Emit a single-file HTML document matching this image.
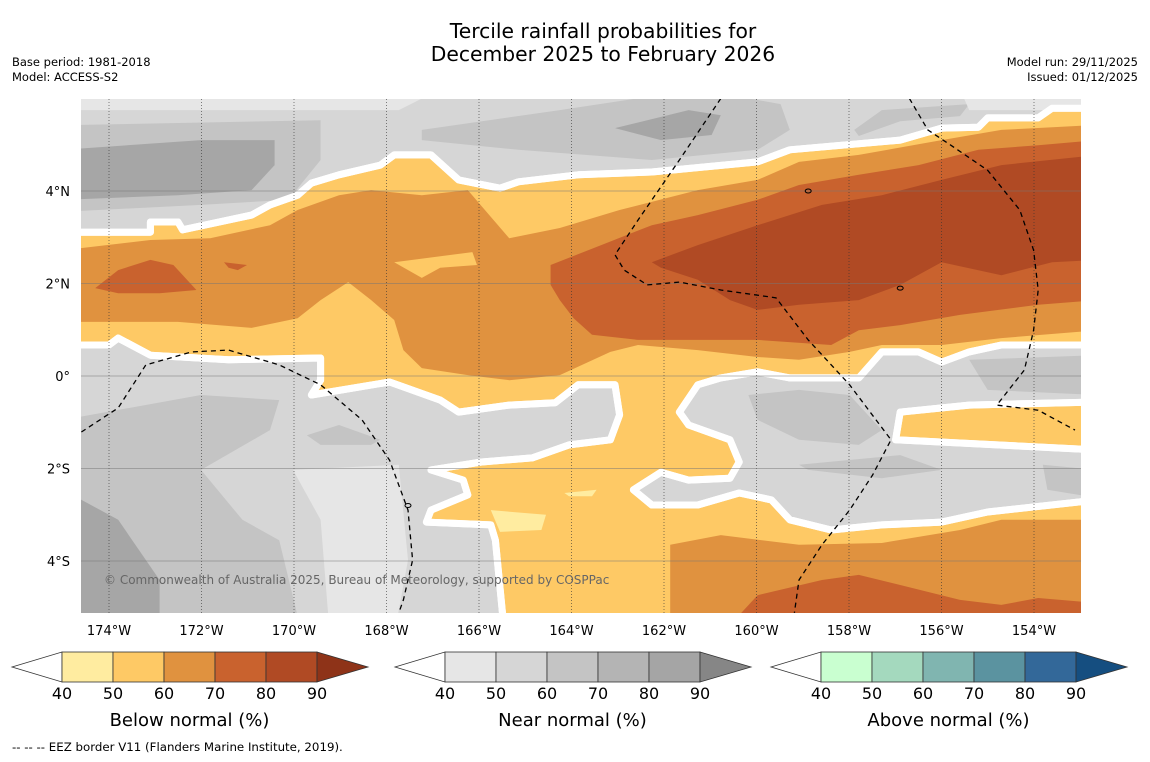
<!DOCTYPE html>
<html><head><meta charset="utf-8"><style>
body{margin:0;background:#fff;width:1150px;height:758px;overflow:hidden;font-family:"DejaVu Sans","Liberation Sans",sans-serif;}
svg text{font-family:"DejaVu Sans","Liberation Sans",sans-serif;}
</style></head><body>
<svg id="chart" width="1150" height="758" xmlns="http://www.w3.org/2000/svg">
<rect width="1150" height="758" fill="#fff"/>
<text x="603" y="38" font-size="20.3" text-anchor="middle">Tercile rainfall probabilities for</text>
<text x="603" y="61" font-size="20.3" text-anchor="middle">December 2025 to February 2026</text>
<text x="12" y="66" font-size="11.5">Base period: 1981-2018</text>
<text x="12" y="81" font-size="11.5">Model: ACCESS-S2</text>
<text x="1138" y="66" font-size="11.5" text-anchor="end">Model run: 29/11/2025</text>
<text x="1138" y="81" font-size="11.5" text-anchor="end">Issued: 01/12/2025</text>
<defs><clipPath id="mapclip"><rect x="81" y="99" width="1000" height="514"/></clipPath></defs>
<g id="map" clip-path="url(#mapclip)"></g>
<g id="axes"></g>
<g id="bars"></g>
<text x="12" y="751" font-size="11.8">--  --  -- EEZ border V11 (Flanders Marine Institute, 2019).</text>
</svg>
<script>
const lonTicks=[174,172,170,168,166,164,162,160,158,156,154];
const latTicks=[4,2,0,-2,-4];
const cbLevels=[40,50,60,70,80,90];
const belowColors=["#ffeca0","#fec965","#e0923f","#c9622e","#b04a24","#8e3318"];
const nearColors=["#e6e6e6","#d6d6d6","#c4c4c4","#b4b4b4","#a5a5a5","#868686"];
const aboveColors=["#c9ffd0","#a4d9be","#80b5b0","#5b93a0","#336899","#154e80"];
const cbTitles=["Below normal (%)","Near normal (%)","Above normal (%)"];
// contour polygons: [lonW, lat]
const grayTop=[[175,6.3],[175,3.11],[173.1,3.11],[173.1,3.33],[172.5,3.33],[172.4,3.16],[170.9,3.48],[170.5,3.7],[169.9,3.91],[169.6,4.17],[169.0,4.35],[168.1,4.56],[167.8,4.78],[167.0,4.78],[166.4,4.24],[165.5,4.06],[165.1,4.2],[163.8,4.35],[162.2,4.41],[159.9,4.63],[159.2,4.89],[156.8,5.1],[155.9,5.36],[155.1,5.38],[154.9,5.58],[153.8,5.58],[153.5,5.79],[152.5,5.79],[152.5,6.3]];
const grayRight=[[161.6,-0.78],[161.2,-0.19],[160.7,-0.04],[159.9,0.09],[159.2,-0.04],[157.7,-0.04],[157.2,0.52],[156.4,0.52],[155.9,0.3],[155.3,0.52],[154.6,0.67],[152.5,0.67],[152.5,-0.56],[155.3,-0.63],[156.8,-0.78],[156.9,-1.38],[152.5,-1.6],[152.5,-2.68],[154.9,-2.94],[155.9,-3.16],[157.2,-3.22],[158.3,-3.33],[159.2,-3.11],[159.6,-2.68],[160.3,-2.53],[161.2,-2.79],[162.2,-2.79],[162.6,-2.46],[162.0,-2.08],[161.4,-2.25],[160.5,-2.21],[160.3,-1.86],[160.5,-1.38],[161.4,-1.06]];
const grayLeft=[[175,0.67],[174.0,0.67],[173.8,0.82],[173.1,0.45],[171.4,0.35],[169.4,0.39],[169.4,-0.09],[169.6,-0.41],[167.9,-0.13],[166.8,-0.52],[166.4,-0.78],[165.3,-0.63],[164.3,-0.58],[163.8,-0.19],[163.0,-0.19],[162.9,-0.84],[163.1,-1.38],[164.0,-1.49],[164.8,-1.77],[165.9,-1.86],[167.0,-2.03],[166.3,-2.25],[166.2,-2.57],[167.0,-2.9],[167.1,-3.16],[165.7,-3.22],[165.6,-3.55],[165.4,-5.6],[175,-5.6]];
const shadeTop=[
 ["#c4c4c4",[[174.6,5.43],[169.4,5.53],[169.4,4.67],[170.1,3.81],[172.0,3.7],[175,3.55],[175,5.43]]],
 ["#a6a6a6",[[175,4.89],[172.0,5.1],[170.4,5.1],[170.4,4.56],[170.9,4.02],[172.5,3.91],[175,3.81]]],
 ["#c4c4c4",[[167.2,5.32],[164.2,5.75],[161.2,6.2],[159.4,5.88],[159.2,5.32],[159.9,4.89],[162.2,4.67],[165.1,4.89],[167.2,5.1]]],
 ["#a6a6a6",[[163.0,5.36],[161.4,5.75],[160.7,5.64],[160.9,5.21],[162.0,5.1]]],
 ["#c4c4c4",[[157.8,5.32],[157.2,5.75],[155.3,5.88],[155.5,5.62],[156.8,5.51],[157.7,5.19]]],
 ["#e6e6e6",[[175,6.2],[166.8,6.2],[167.7,5.75],[175,5.75]]],
 ["#e6e6e6",[[155.5,6.2],[152.5,6.2],[152.5,5.75],[155.3,5.75]]]];
const shadeLeft=[
 ["#c4c4c4",[[175,-0.95],[172.0,-0.41],[170.3,-0.52],[170.5,-1.17],[172.0,-2.03],[171.1,-3.11],[170.3,-3.55],[169.8,-5.6],[175,-5.6]]],
 ["#e6e6e6",[[170.0,-2.03],[167.7,-1.92],[167.5,-3.98],[167.8,-5.6],[169.2,-5.6],[169.4,-3.11]]],
 ["#a6a6a6",[[175,-2.46],[173.8,-3.11],[172.9,-4.41],[172.9,-5.6],[175,-5.6]]],
 ["#c4c4c4",[[169.7,-1.28],[169.0,-1.06],[168.1,-1.38],[168.3,-1.49],[169.4,-1.49]]]];
const shadeRight=[
 ["#c4c4c4",[[160.1,-0.41],[159.0,-0.3],[157.9,-0.41],[157.2,-1.17],[157.7,-1.49],[159.0,-1.38],[159.9,-0.95]]],
 ["#c4c4c4",[[159.0,-1.92],[156.8,-1.71],[155.9,-2.03],[157.2,-2.21],[158.8,-2.03]]],
 ["#c4c4c4",[[155.3,0.35],[152.5,0.45],[152.5,-0.41],[154.9,-0.3]]],
 ["#c4c4c4",[[153.7,-1.92],[152.5,-2.03],[152.5,-2.64],[153.6,-2.46]]]];
const orangeMain=[[175,2.72],[173.1,2.94],[171.8,2.98],[170.5,3.26],[169.9,3.59],[169.0,3.91],[168.3,4.02],[167.2,3.91],[166.2,4.02],[165.3,2.98],[164.2,3.2],[162.9,3.59],[161.2,4.02],[159.9,4.24],[159.0,4.63],[157.7,4.78],[155.9,5.1],[154.6,5.32],[152.5,5.43],[152.5,0.99],[154.6,0.82],[155.9,0.67],[157.2,0.67],[157.9,0.52],[159.0,0.35],[159.9,0.41],[161.2,0.56],[162.5,0.67],[163.1,0.52],[164.2,0.02],[165.3,-0.09],[166.2,0.02],[167.2,0.17],[167.6,0.56],[167.8,1.21],[168.3,1.64],[168.8,2.03],[169.4,1.64],[169.9,1.25],[170.9,1.04],[172.5,1.17],[175,1.17]];
const yellowPatch=[[167.8,2.46],[166.1,2.68],[166.0,2.4],[166.8,2.34],[167.2,2.12]];
const orangeBottom=[[161.8,-5.6],[161.8,-3.65],[160.7,-3.44],[159.0,-3.65],[157.2,-3.61],[155.5,-3.33],[154.6,-3.11],[152.5,-3.11],[152.5,-5.6]];
const darkMain=[[164.4,2.4],[163.3,2.83],[162.2,3.26],[161.2,3.48],[159.9,3.81],[159.0,4.13],[157.7,4.35],[156.4,4.56],[155.1,4.89],[153.8,4.99],[152.5,5.1],[152.5,1.64],[153.8,1.54],[155.5,1.32],[156.8,1.1],[157.7,0.99],[158.3,0.67],[159.9,0.78],[161.2,0.78],[162.5,0.78],[163.5,0.89],[163.9,1.25],[164.2,1.64],[164.4,1.97]];
const darkLeft=[[174.3,1.9],[173.8,2.29],[173.1,2.51],[172.6,2.4],[172.1,1.86],[172.9,1.79],[173.8,1.79]];
const darkSmall=[[171.5,2.46],[171.0,2.4],[171.2,2.29],[171.4,2.34]];
const darkBottom=[[160.7,-5.6],[159.9,-4.74],[158.5,-4.41],[157.7,-4.3],[156.8,-4.52],[155.5,-4.84],[154.6,-4.95],[153.8,-4.8],[152.5,-4.91],[152.5,-5.6]];
const brown=[[162.2,2.46],[161.2,2.83],[159.9,3.26],[158.5,3.7],[157.2,3.91],[155.9,4.24],[154.6,4.56],[152.5,4.78],[152.5,2.51],[153.5,2.46],[154.6,2.18],[155.9,2.46],[156.8,1.97],[157.7,1.64],[159.0,1.54],[159.9,1.43],[160.5,1.64],[161.2,2.08],[162.0,2.34]];
const lightYellow=[[165.7,-2.9],[164.5,-3.0],[164.6,-3.33],[165.5,-3.37]];
const lightYellow2=[[164.1,-2.53],[163.4,-2.46],[163.5,-2.6],[164.0,-2.6]];
const eez1=[[174.6,-1.21],[173.8,-0.69],[173.2,0.24],[172.2,0.52],[171.4,0.56],[170.3,0.24],[169.4,-0.19],[168.5,-0.95],[167.9,-1.82],[167.5,-2.9],[167.4,-3.98],[167.6,-4.84],[167.7,-5.12]];
const eez2=[[160.7,6.0],[161.6,4.67],[162.5,3.37],[163.0,2.62],[162.8,2.29],[162.3,1.97],[161.6,2.03],[160.7,1.86],[159.5,1.69],[158.8,0.78],[157.9,-0.19],[157.0,-1.38],[157.4,-2.14],[157.9,-2.9],[158.5,-3.65],[159.0,-4.41],[159.1,-5.12]];
const eez3=[[156.6,6.0],[156.2,5.32],[155.7,4.99],[154.9,4.45],[154.2,3.59],[153.9,2.72],[153.8,1.86],[153.9,0.99],[154.1,0.13],[154.7,-0.63],[153.8,-0.74],[153.0,-1.17]];

const NS="http://www.w3.org/2000/svg";
const x=lw=>109+(174-lw)*46.25;
const xp=lw=>109+(174-lw)*46;
const y=lat=>376-lat*46.25;
const pts=a=>a.map(p=>xp(p[0]).toFixed(1)+","+y(p[1]).toFixed(1)).join(" ");
function mk(tag,parent,attrs){const e=document.createElementNS(NS,tag);for(const k in attrs)e.setAttribute(k,attrs[k]);parent.appendChild(e);return e;}
const map=document.getElementById("map");
const defs=document.querySelector("defs");
let bg=mk("rect",map,{x:81,y:99,width:1000,height:514,fill:"#fec965"});


function poly(a,fill,name,stroke){const p=mk("polygon",map,{points:pts(a),fill:fill});
 if(stroke){p.setAttribute("stroke","#fff");p.setAttribute("stroke-width","7");p.setAttribute("stroke-linejoin","round");}
 
 
 return p;}
poly(orangeMain,"#e0923f","below-60-band");
poly(yellowPatch,"#fec965","below-50-patch");
poly(orangeBottom,"#e0923f","below-60-south");
poly(darkMain,"#c9622e","below-70-band");
poly(darkLeft,"#c9622e","below-70-west");
poly(darkSmall,"#c9622e","below-70-small");
poly(darkBottom,"#c9622e","below-70-south");
poly(brown,"#b04a24","below-80-core");
poly(lightYellow,"#ffeca0","below-40-patch");
poly(lightYellow2,"#ffeca0","below-40-patch-small");
[[grayTop,shadeTop,"near-normal-north"],[grayLeft,shadeLeft,"near-normal-southwest"],[grayRight,shadeRight,"near-normal-southeast"]].forEach((g,i)=>{
 poly(g[0],"#d6d6d6",g[2],true);
 const cp=mk("clipPath",defs,{id:"cp"+i});mk("polygon",cp,{points:pts(g[0])});
 const grp=mk("g",map,{"clip-path":"url(#cp"+i+")"});
 
 
 g[1].forEach(s=>{const p=mk("polygon",grp,{points:pts(s[1]),fill:s[0]});
  
  });
 const o=mk("polygon",map,{points:pts(g[0]),fill:"none",stroke:"#fff","stroke-width":7,"stroke-linejoin":"round"});
 
 
});
const ax=document.getElementById("axes");
lonTicks.forEach(l=>{const gl=mk("line",map,{x1:x(l),x2:x(l),y1:99,y2:613,stroke:"#333","stroke-width":0.6,"stroke-dasharray":"1,2"});
 
 
 const t=mk("text",ax,{x:x(l),y:635,"font-size":13,"text-anchor":"middle"});t.textContent=l+"°W";
 
 });
latTicks.forEach(l=>{const gl=mk("line",map,{x1:81,x2:1081,y1:y(l),y2:y(l),stroke:"#777","stroke-width":0.6});
 
 
 const t=mk("text",ax,{x:70,y:y(l)+5,"font-size":13,"text-anchor":"end"});t.textContent=l===0?"0°":Math.abs(l)+(l>0?"°N":"°S");
 
 });
[eez1,eez2,eez3].forEach(e=>{const p=mk("polyline",map,{points:pts(e),fill:"none",stroke:"#000","stroke-width":1.3,"stroke-dasharray":"5,4"});
 
 });
[[158.8,4.0],[156.8,1.9],[167.5,-2.8]].forEach(c=>{const e=mk("ellipse",map,{cx:xp(c[0]),cy:y(c[1]),rx:3,ry:2,fill:"none",stroke:"#000","stroke-width":1});
 
 });
const cr=mk("text",map,{x:104,y:584,"font-size":12,fill:"#666"});cr.textContent="© Commonwealth of Australia 2025, Bureau of Meteorology, supported by COSPPac";


const bars=document.getElementById("bars");
const cbStarts=[62,445,821];
[belowColors,nearColors,aboveColors].forEach((cols,b)=>{
 const x0=cbStarts[b],w=51,top=652,h=30;
 const tl=mk("polygon",bars,{points:`${x0-50},${top+h/2} ${x0},${top} ${x0},${top+h}`,fill:"#fff",stroke:"#333","stroke-width":0.8});
 
 
 for(let i=0;i<5;i++){const r=mk("rect",bars,{x:x0+i*w,y:top,width:w,height:h,fill:cols[i],stroke:"#333","stroke-width":0.8});
  
  }
 const tr=mk("polygon",bars,{points:`${x0+5*w},${top} ${x0+5*w+51},${top+h/2} ${x0+5*w},${top+h}`,fill:cols[5],stroke:"#333","stroke-width":0.8});
 
 
 cbLevels.forEach((v,i)=>{const t=mk("text",bars,{x:x0+i*w,y:699,"font-size":16,"text-anchor":"middle"});t.textContent=v;
  
  });
 const tt=mk("text",bars,{x:x0+2.5*w,y:726,"font-size":18,"text-anchor":"middle"});tt.textContent=cbTitles[b];
 
 
});
</script>
</body></html>
